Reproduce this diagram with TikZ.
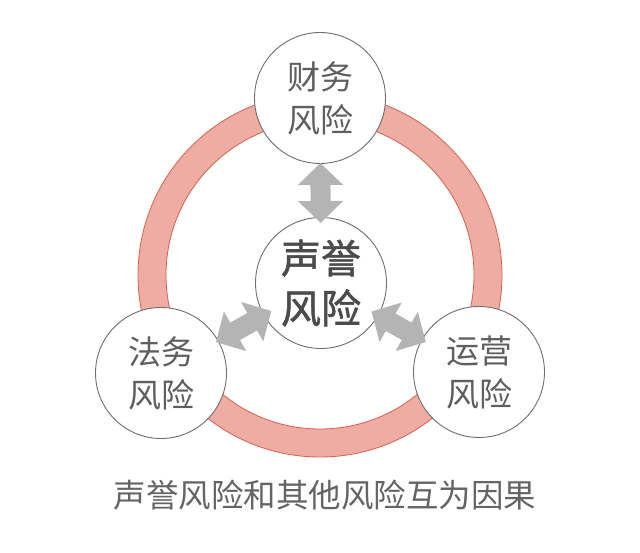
\documentclass[tikz,border=0pt]{standalone}
\usepackage{fontspec}
\setmainfont{Noto Sans CJK SC}
\newfontfamily\corefont[FakeBold=1.3]{Noto Sans CJK SC}
\usetikzlibrary{arrows.meta}
\definecolor{ringfill}{RGB}{238,172,163}
\definecolor{ringline}{RGB}{214,96,80}
\definecolor{circline}{RGB}{110,110,110}
\definecolor{arrowgray}{RGB}{180,180,180}
\definecolor{txtgray}{RGB}{95,95,95}
\tikzset{
  riskcircle/.style={circle, draw=circline, line width=0.9pt, fill=white, minimum size=131pt, inner sep=0pt,
    align=center, text=txtgray, font=\fontsize{33}{43}\selectfont},
  corecircle/.style={riskcircle, text={rgb,255:red,75;green,75;blue,75}, font=\corefont\fontsize{40}{50}\selectfont},
  bigarrow/.style={draw=arrowgray, line width=20pt,
    {Triangle[width=44pt,length=22pt]}-{Triangle[width=44pt,length=22pt]}},
  caption/.style={text={rgb,255:red,100;green,100;blue,100}, font=\fontsize{32.5}{38}\selectfont, inner sep=0pt}
}
\begin{document}
\begin{tikzpicture}[x=1pt,y=-1pt]
\useasboundingbox (0,0) rectangle (640,552);
% ring
\coordinate (rc) at (320,275);
\fill[ringfill, even odd rule] (rc) circle[radius=182] (rc) circle[radius=154];
\draw[ringline, line width=0.8pt] (rc) circle[radius=182];
\draw[ringline, line width=0.8pt] (rc) circle[radius=154];
% circles
\node[riskcircle] (fin) at (320,98) {财务\\风险};
\node[corecircle] (rep) at (321,283) {声誉\\风险};
\node[riskcircle] (law) at (161,373) {法务\\风险};
\node[riskcircle] (ops) at (479,372) {运营\\风险};
% arrows
\draw[bigarrow, shorten <=65pt, shorten >=60pt] (fin.center) -- (rep.center);
\draw[bigarrow, shorten <=63pt, shorten >=57pt] (law.center) -- (rep.center);
\draw[bigarrow, shorten <=61pt, shorten >=58pt] (ops.center) -- (rep.center);
% caption
\node[caption] (cap) at (325,495) {声誉风险和其他风险互为因果};
\end{tikzpicture}
\end{document}
